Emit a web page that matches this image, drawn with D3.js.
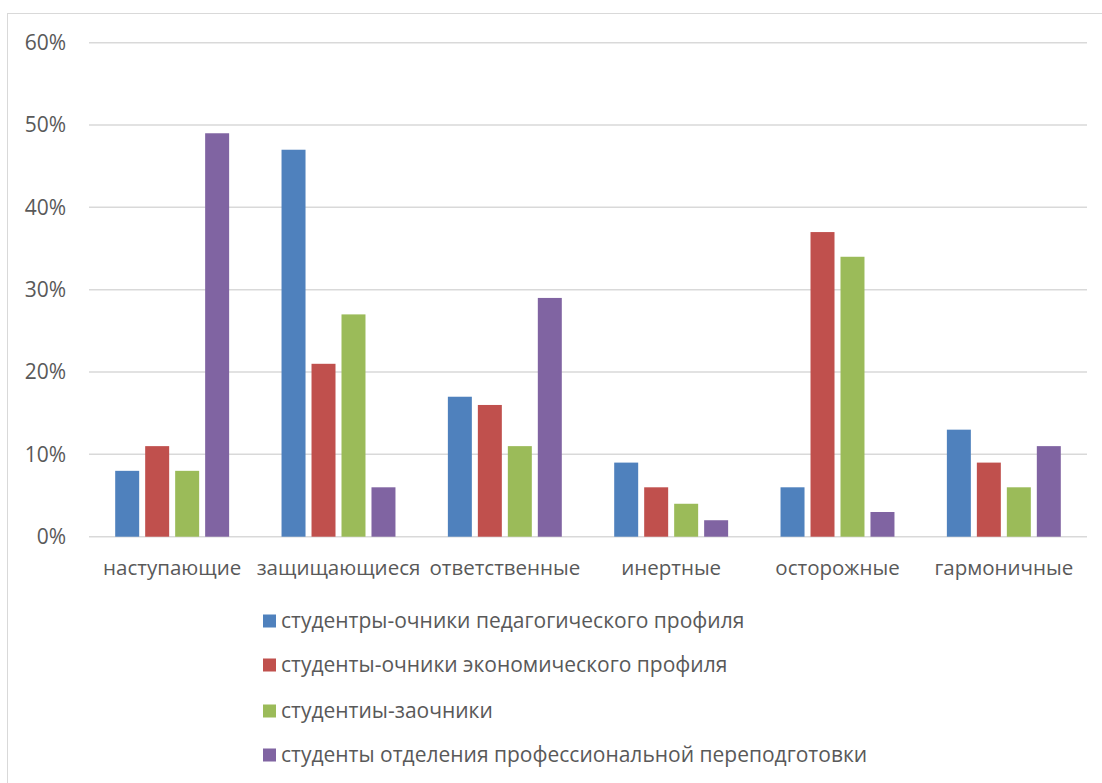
<!DOCTYPE html>
<html>
<head>
<meta charset="utf-8">
<script src="https://cdn.jsdelivr.net/npm/d3@7"></script>
<style>
  html, body { margin: 0; padding: 0; background: #fff; }
  svg { display: block; }
  text { font-family: "Open Sans", "Noto Sans", sans-serif; fill: #595959; }
</style>
</head>
<body>
<svg id="chart" width="1102" height="783"></svg>
<script>
// Categories (types of behaviour) and series
const categories = ["наступающие", "защищающиеся", "ответственные", "инертные", "осторожные", "гармоничные"];
const seriesNames = [
  "студентры-очники педагогического профиля",
  "студенты-очники экономического профиля",
  "студентиы-заочники",
  "студенты отделения профессиональной переподготовки"
];
const seriesColors = ["#4F81BD", "#C0504D", "#9BBB59", "#8064A2"];

// Percent values per series, in category order
const pedagogical = [8, 47, 17, 9, 6, 13];
const economic    = [11, 21, 16, 6, 37, 9];
const extramural  = [8, 27, 11, 4, 34, 6];
const retraining  = [49, 6, 29, 2, 3, 11];
const seriesValues = [pedagogical, economic, extramural, retraining];

const yTicks = [0, 10, 20, 30, 40, 50, 60];

const svg = d3.select("#chart");

// Chart area frame
svg.append("rect")
  .attr("x", 7.5).attr("y", 13.5)
  .attr("width", 1110).attr("height", 800)
  .attr("fill", "#fff").attr("stroke", "#d9d9d9").attr("stroke-width", 1);

const plot = { left: 89, right: 1087, top: 42.7, bottom: 536.7 };

const x0 = d3.scaleBand().domain(categories).range([plot.left, plot.right]).padding(0);
const bw = x0.bandwidth();
const groupW = bw * 0.685;
const x1 = d3.scaleBand().domain(d3.range(seriesNames.length))
  .range([(bw - groupW) / 2, (bw + groupW) / 2])
  .paddingInner(0.2).paddingOuter(0);
const y = d3.scaleLinear().domain([0, 60]).range([plot.bottom, plot.top]);

// Gridlines
svg.append("g").selectAll("line").data(yTicks).join("line")
  .attr("x1", plot.left).attr("x2", plot.right)
  .attr("y1", d => y(d)).attr("y2", d => y(d))
  .attr("stroke", "#d9d9d9").attr("stroke-width", 1.5);

// Y axis labels
const yAxis = d3.axisLeft(y).tickValues(yTicks).tickFormat(d => d + "%").tickSize(0).tickPadding(0);
const gy = svg.append("g").attr("transform", `translate(66,0)`).call(yAxis);
gy.select(".domain").remove();
gy.selectAll("text").attr("font-size", 21).attr("fill", "#595959")
  .style("font-family", '"Open Sans", sans-serif');

// Bars
const groups = svg.append("g").selectAll("g").data(seriesValues).join("g")
  .attr("fill", (d, i) => seriesColors[i]);
groups.each(function (vals, si) {
  d3.select(this).selectAll("rect").data(vals).join("rect")
    .attr("x", (v, ci) => x0(categories[ci]) + x1(si))
    .attr("width", x1.bandwidth())
    .attr("y", v => y(v))
    .attr("height", v => y(0) - y(v));
});

// Category axis labels
const xAxis = d3.axisBottom(x0).tickSize(0).tickPadding(0);
const gx = svg.append("g").attr("transform", `translate(0,${plot.bottom + 24})`).call(xAxis);
gx.select(".domain").remove();
gx.selectAll("text").attr("font-size", 20.5).attr("fill", "#595959")
  .style("font-family", '"Open Sans", sans-serif');

// Legend
const legendY = [621, 665, 711, 755];
const legend = svg.append("g").selectAll("g").data(seriesNames).join("g")
  .attr("transform", (d, i) => `translate(263,${legendY[i]})`);
legend.append("rect").attr("x", 0).attr("y", -6.5).attr("width", 13).attr("height", 13)
  .attr("fill", (d, i) => seriesColors[i]);
legend.append("text").attr("x", 18).attr("y", 0).attr("dy", "0.35em")
  .attr("font-size", 21).text(d => d);
</script>
</body>
</html>
